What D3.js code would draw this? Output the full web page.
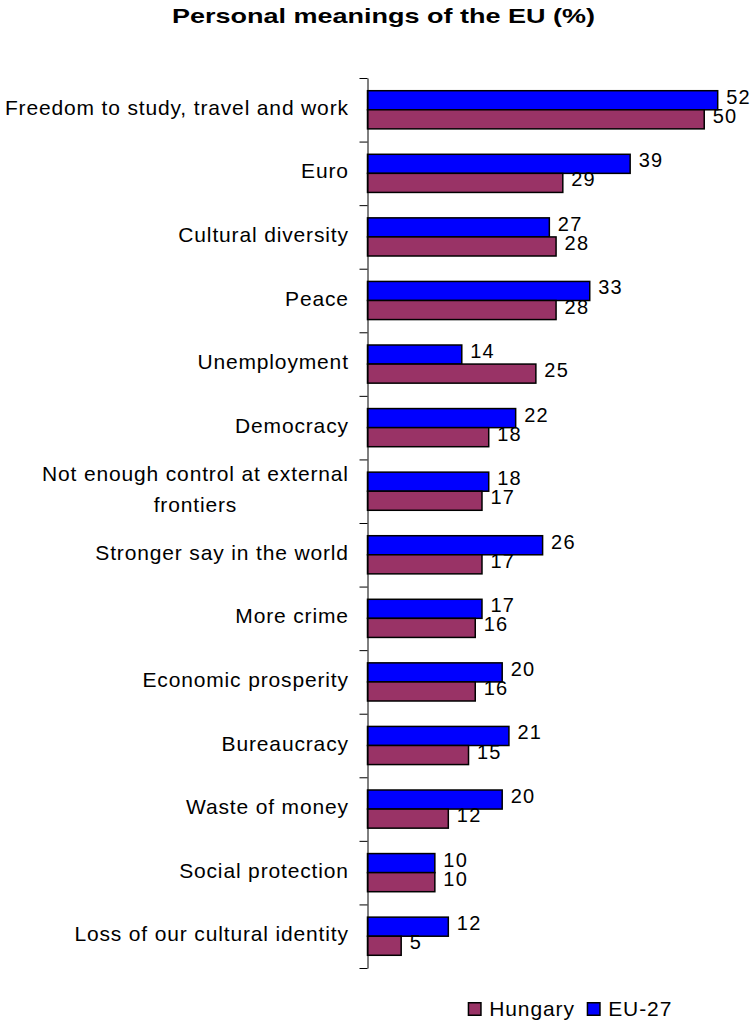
<!DOCTYPE html>
<html>
<head>
<meta charset="utf-8">
<script src="https://cdn.jsdelivr.net/npm/d3@7/dist/d3.min.js"></script>
<style>
  html, body { margin: 0; padding: 0; background: #fff; }
  svg { display: block; }
  text { font-family: "Liberation Sans", Arial, sans-serif; fill: #000; }
</style>
</head>
<body>
<svg id="chart" width="751" height="1022"></svg>
<script>
const categories = [
  "Freedom to study, travel and work",
  "Euro",
  "Cultural diversity",
  "Peace",
  "Unemployment",
  "Democracy",
  "Not enough control at external frontiers",
  "Stronger say in the world",
  "More crime",
  "Economic prosperity",
  "Bureaucracy",
  "Waste of money",
  "Social protection",
  "Loss of our cultural identity"
];
const eu27 = [52, 39, 27, 33, 14, 22, 18, 26, 17, 20, 21, 20, 10, 12];
const hungary = [50, 29, 28, 28, 25, 18, 17, 17, 16, 16, 15, 12, 10, 5];
const seriesNames = ["EU-27", "Hungary"];
const legendOrder = ["Hungary", "EU-27"];
const colors = { "EU-27": "#0000FF", "Hungary": "#993366" };
const chartTitle = "Personal meanings of the EU (%)";

(function () {
const svg = d3.select("#chart");

const axisX = 367.5, plotTop = 78, plotBottom = 968;
const x = d3.scaleLinear().domain([0, 52]).range([axisX, 717.7]);
const y = d3.scaleBand().domain(categories).range([plotTop, plotBottom]).paddingInner(0.4).paddingOuter(0.2);
const ySub = d3.scaleBand().domain(seriesNames).range([0, y.bandwidth()]);
const yAxisScale = d3.scaleLinear().domain([0, categories.length]).range([plotTop, plotBottom]);

// Title
svg.append("text")
  .attr("x", 383.5).attr("y", 23.3)
  .attr("text-anchor", "middle")
  .attr("font-size", 21).attr("font-weight", "bold")
  .attr("textLength", 423).attr("lengthAdjust", "spacingAndGlyphs")
  .text(chartTitle);

// Bars
const rows = categories.map((c, i) => ({ cat: c, vals: [
  { s: "EU-27", v: eu27[i] }, { s: "Hungary", v: hungary[i] } ] }));

const g = svg.append("g");
const grp = g.selectAll("g.cat").data(rows).join("g")
  .attr("class", "cat")
  .attr("transform", d => `translate(0,${y(d.cat)})`);

grp.selectAll("rect").data(d => d.vals).join("rect")
  .attr("x", x(0))
  .attr("y", d => ySub(d.s))
  .attr("width", d => x(d.v) - x(0))
  .attr("height", ySub.bandwidth())
  .attr("fill", d => colors[d.s])
  .attr("stroke", "#000").attr("stroke-width", 1.5);

grp.selectAll("text.val").data(d => d.vals).join("text")
  .attr("class", "val")
  .attr("x", d => x(d.v) + 8.5)
  .attr("y", d => ySub(d.s) + ySub.bandwidth() / 2 + 3.5)
  .attr("font-size", 20).attr("letter-spacing", 1.2)
  .text(d => d.v);

// Axis
const axis = d3.axisLeft(yAxisScale)
  .tickValues(d3.range(categories.length + 1))
  .tickFormat("")
  .tickSize(8).tickSizeOuter(0);
const ag = svg.append("g").attr("transform", `translate(${axisX},0)`).call(axis);
ag.select(".domain").attr("stroke", "#000").attr("stroke-width", 1);
ag.selectAll(".tick line").attr("stroke", "#000").attr("stroke-width", 1);

// Category labels
const labelRight = 348, maxW = 355, LS = 0.85, FS = 21, lineH = 31;
categories.forEach(c => {
  const cy = y(c) + y.bandwidth() / 2;
  const words = c.split(" ");
  let lines = [], cur = [];
  const probe = svg.append("text").attr("font-size", FS).attr("letter-spacing", LS);
  words.forEach(w => {
    const test = cur.concat([w]).join(" ");
    probe.text(test);
    if (probe.node().getComputedTextLength() > maxW && cur.length) {
      lines.push(cur.join(" ")); cur = [w];
    } else cur.push(w);
  });
  lines.push(cur.join(" "));
  probe.remove();
  const n = lines.length;
  let firstW = 0;
  lines.forEach((ln, k) => {
    const by = cy + 5 + (k - (n - 1) / 2) * lineH;
    const tx = svg.append("text")
      .attr("font-size", FS).attr("letter-spacing", LS)
      .attr("y", by).text(ln);
    if (k === 0) {
      firstW = tx.node().getComputedTextLength();
      tx.attr("x", labelRight + LS).attr("text-anchor", "end");
    } else {
      tx.attr("x", labelRight + LS - firstW / 2).attr("text-anchor", "middle");
    }
  });
});

// Legend
const legX = [467.7, 586.7];
const lg = svg.append("g");
legendOrder.forEach((s, i) => {
  lg.append("rect")
    .attr("x", legX[i] + 0.75).attr("y", 1002.75)
    .attr("width", 12.5).attr("height", 12.5)
    .attr("fill", colors[s]).attr("stroke", "#000").attr("stroke-width", 1.5);
  lg.append("text")
    .attr("x", legX[i] + 21.5).attr("y", 1015.5)
    .attr("font-size", 21).attr("letter-spacing", 0.9)
    .text(s);
});
})();
</script>
</body>
</html>
